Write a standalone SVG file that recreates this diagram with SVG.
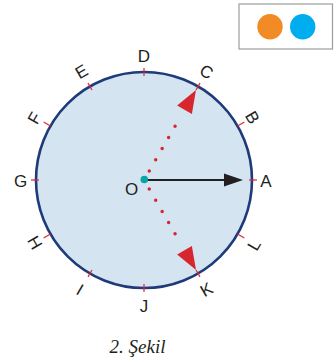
<svg xmlns="http://www.w3.org/2000/svg" width="335" height="361" viewBox="0 0 335 361">
<style>
.lbl{font-family:"Liberation Sans",Arial,sans-serif;font-size:17px;fill:#231f20;text-anchor:middle}
.tick{stroke:#e2262e;stroke-width:1.2}
.dots{fill:none;stroke:#d7262e;stroke-width:3.5;stroke-linecap:round;stroke-dasharray:0 12.9}
.cap{font-family:"Liberation Serif","Times New Roman",serif;font-style:italic;font-size:19px;fill:#231f20;text-anchor:middle}
</style>
<defs>
<marker id="redHead" markerUnits="userSpaceOnUse" markerWidth="30" markerHeight="20" refX="-6" refY="8.5" orient="auto" overflow="visible">
<path d="M0,0 L23,8.5 L0,17 Z" fill="#d7262e"/>
</marker>
<marker id="blackHead" markerUnits="userSpaceOnUse" markerWidth="22" markerHeight="14" refX="2" refY="6.5" orient="auto" overflow="visible">
<path d="M0,0 L19,6.5 L0,13 Z" fill="#231f20"/>
</marker>
</defs>
<rect width="335" height="361" fill="#ffffff"/>
<g id="legend">
<rect x="239" y="4" width="93.5" height="45" fill="#ffffff" stroke="#9d9d9d" stroke-width="1.2"/>
<circle cx="270" cy="26.7" r="12.7" fill="#f28a26"/>
<circle cx="302.7" cy="26.7" r="12.7" fill="#00adee"/>
</g>
<g id="circle">
<circle cx="144" cy="180" r="108" fill="#d4e4f1" stroke="#1e3a78" stroke-width="2.6"/>
<g id="ticks">
<line class="tick" x1="249" y1="180" x2="257" y2="180"/>
<line class="tick" x1="237.5" y1="126" x2="244.4" y2="122"/>
<line class="tick" x1="196" y1="90" x2="200" y2="83.1"/>
<line class="tick" x1="144" y1="76" x2="144" y2="68"/>
<line class="tick" x1="92" y1="90" x2="88" y2="83.1"/>
<line class="tick" x1="50.5" y1="126" x2="43.6" y2="122"/>
<line class="tick" x1="39" y1="180" x2="31" y2="180"/>
<line class="tick" x1="50.5" y1="234" x2="43.6" y2="238"/>
<line class="tick" x1="92" y1="270" x2="88" y2="276.9"/>
<line class="tick" x1="144" y1="284" x2="144" y2="292"/>
<line class="tick" x1="196" y1="270" x2="200" y2="276.9"/>
<line class="tick" x1="237.5" y1="234" x2="244.4" y2="238"/>
</g>
</g>
<g id="labels">
<text class="lbl" transform="translate(266,180.5)" y="6">A</text>
<text class="lbl" transform="translate(252.5,117.5) rotate(60)" y="6">B</text>
<text class="lbl" transform="translate(206.5,71.5) rotate(30)" y="6">C</text>
<text class="lbl" transform="translate(144,55.5)" y="6">D</text>
<text class="lbl" transform="translate(81.5,71.5) rotate(-30)" y="6">E</text>
<text class="lbl" transform="translate(34.5,118) rotate(-60)" y="6">F</text>
<text class="lbl" transform="translate(20.5,181)" y="6">G</text>
<text class="lbl" transform="translate(35,242.5) rotate(60)" y="6">H</text>
<text class="lbl" transform="translate(80,289.5) rotate(30)" y="6">I</text>
<text class="lbl" transform="translate(144,305.5)" y="6">J</text>
<text class="lbl" transform="translate(206.5,289.5) rotate(-30)" y="6">K</text>
<text class="lbl" transform="translate(254,245) rotate(-60)" y="6">L</text>
<text class="lbl" transform="translate(131.5,188.5)" y="6">O</text>
</g>
<g id="connectors">
<path class="dots" d="M149.25,170.9 L181.5,115.05" marker-end="url(#redHead)"/>
<path class="dots" d="M149.25,189.1 L181.5,244.95" marker-end="url(#redHead)"/>
<path d="M144,180 L226,180" fill="none" stroke="#231f20" stroke-width="2.2" marker-end="url(#blackHead)"/>
</g>
<g id="center">
<circle cx="144.3" cy="179.5" r="3.8" fill="#0aa3a6"/>
</g>
<text class="cap" x="137.5" y="353">2. Şekil</text>
</svg>
